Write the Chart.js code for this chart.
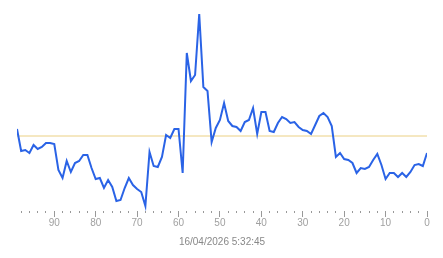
<!DOCTYPE html>
<html>
<head>
<meta charset="utf-8">
<script src="https://cdn.jsdelivr.net/npm/chart.js@4/dist/chart.umd.min.js"></script>
<style>
html,body{margin:0;padding:0;background:#fff;}
#wrap{width:443px;height:258px;position:relative;}
</style>
</head>
<body>
<div id="wrap"><canvas id="c"></canvas></div>
<script>
// samples ago (x) and measured values
const sampleIndex = [99,98,97,96,95,94,93,92,91,90,89,88,87,86,85,84,83,82,81,80,79,78,77,76,75,74,73,72,71,70,69,68,67,66,65,64,63,62,61,60,59,58,57,56,55,54,53,52,51,50,49,48,47,46,45,44,43,42,41,40,39,38,37,36,35,34,33,32,31,30,29,28,27,26,25,24,23,22,21,20,19,18,17,16,15,14,13,12,11,10,9,8,7,6,5,4,3,2,1,0];
const values = [82,60,61,58,66,62,64,68,68,67,41,33,50,39,48,50,56,56,43,32,33,23,31,24,10,11,23,33,26,22,19,5,59,45,44,54,76,73,82,82,38,158,130,136,197,124,120,69,83,91,108,90,85,84,80,89,91,103,77,99,99,80,79,88,94,92,88,89,84,81,80,77,86,95,98,94,85,54,58,52,51,48,38,43,42,44,51,57,46,32,38,38,34,38,34,39,46,47,45,58];
const threshold = 75;
const majorTicks = [90,80,70,60,50,40,30,20,10,0];
const titleText = '16/04/2026 5:32:45';

const seriesPoints = sampleIndex.map((x, i) => ({x: x, y: values[i]}));
const thresholdPoints = [{x: sampleIndex[0], y: threshold}, {x: sampleIndex[sampleIndex.length - 1], y: threshold}];

new Chart(document.getElementById('c'), {
  type: 'line',
  data: {
    datasets: [
      {data: seriesPoints, borderColor: '#2a63e6', borderWidth: 2, pointRadius: 0, tension: 0, order: 0},
      {data: thresholdPoints, borderColor: '#ebd083', borderWidth: 1, pointRadius: 0, tension: 0, order: 1}
    ]
  },
  options: {
    responsive: true,
    maintainAspectRatio: false,
    animation: false,
    events: [],
    layout: {padding: {left: 17, right: 16, top: 11, bottom: 4}},
    plugins: {
      legend: {display: false},
      tooltip: {enabled: false},
      title: {
        display: true,
        position: 'bottom',
        text: titleText,
        color: '#888',
        font: {family: 'Liberation Sans, Arial, sans-serif', size: 10, weight: 'normal'},
        padding: {top: 7, bottom: 6}
      }
    },
    scales: {
      x: {
        type: 'linear',
        reverse: true,
        min: 0,
        max: 99,
        border: {display: false},
        grid: {
          drawOnChartArea: false,
          drawTicks: true,
          tickLength: 6,
          tickWidth: 1,
          tickColor: '#999',
          tickBorderDash: (ctx) => (majorTicks.includes(ctx.tick && ctx.tick.value) ? [] : [2, 20])
        },
        ticks: {
          stepSize: 2,
          includeBounds: false,
          autoSkip: false,
          maxRotation: 0,
          padding: 0,
          color: '#a0a0a0',
          font: {family: 'Liberation Sans, Arial, sans-serif', size: 10},
          callback: (v) => (majorTicks.includes(v) ? String(v) : '')
        }
      },
      y: {
        display: false,
        min: 0,
        max: 200
      }
    }
  }
});
</script>
</body>
</html>
